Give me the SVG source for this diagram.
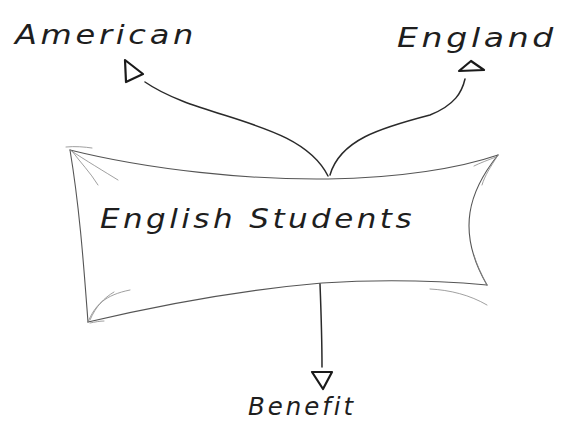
<svg xmlns="http://www.w3.org/2000/svg" width="561" height="422" viewBox="0 0 561 422">
  <style>
    .hand { font-family: "DejaVu Sans", "Liberation Sans", sans-serif; font-style: italic; font-weight: 300; fill: #1e1e1e; letter-spacing: 3px; }
    .edge { fill: none; stroke: #555; stroke-width: 1.1; stroke-linecap: round; }
    .fan { fill: none; stroke: #888; stroke-width: 0.8; stroke-linecap: round; }
    .wire { fill: none; stroke: #2a2a2a; stroke-width: 1.5; stroke-linecap: round; }
    .head { fill: #fff; stroke: #1a1a1a; stroke-width: 2.2; stroke-linejoin: round; }
  </style>
  <rect width="561" height="422" fill="#fff"/>

  <!-- banner: English Students -->
  <g id="english-students">
    <path class="edge" d="M70,150 C150,170 250,180 328,179 C400,178 460,168 498,155"/>
    <path class="edge" d="M498,155 C470,190 455,230 487,285"/>
    <path class="edge" d="M487,285 C430,280 370,280 322,283 C240,290 160,305 88,322"/>
    <path class="edge" d="M88,322 C84,270 80,210 70,150"/>
    <!-- corner flourishes -->
    <path class="fan" d="M70,150 C85,160 105,172 118,180"/>
    <path class="fan" d="M72,151 C80,162 90,172 98,185"/>
    <path class="fan" d="M66,147 C75,146 85,147 92,148"/>
    <path class="fan" d="M88,322 C95,305 105,295 130,290"/>
    <path class="fan" d="M90,320 C96,306 104,298 114,292"/>
    <path class="fan" d="M90,323 C95,322 100,321 104,321"/>
    <path class="fan" d="M498,155 C490,168 485,175 482,185"/>
    <path class="fan" d="M496,157 C488,160 480,163 474,166"/>
    <path class="fan" d="M487,285 C480,272 476,262 474,255"/>
    <path class="fan" d="M487,305 C470,295 450,290 430,289"/>
    <text class="hand" x="100" y="228" font-size="27" textLength="315" lengthAdjust="spacingAndGlyphs">English Students</text>
  </g>

  <!-- labels -->
  <g id="american">
    <text class="hand" x="15" y="44" font-size="26" textLength="182" lengthAdjust="spacingAndGlyphs">American</text>
  </g>
  <g id="england">
    <text class="hand" x="397" y="47" font-size="27" textLength="160" lengthAdjust="spacingAndGlyphs">England</text>
  </g>
  <g id="benefit">
    <text class="hand" x="248" y="415" font-size="25" textLength="108" lengthAdjust="spacingAndGlyphs">Benefit</text>
  </g>

  <!-- connectors with hollow triangle heads -->
  <g id="connectors">
    <path class="wire" d="M145,82 C200,120 300,120 328,176"/>
    <path class="wire" d="M330,175 C340,140 380,128 430,115 C455,105 462,92 465,79"/>
    <path class="wire" d="M320,284 C321,310 322,340 322,367"/>
    <polygon class="head" points="125,60 143,74 126,82"/>
    <polygon class="head" points="459,71 471,61 484,70"/>
    <polygon class="head" points="312,372 332,372 323,389"/>
  </g>
</svg>
